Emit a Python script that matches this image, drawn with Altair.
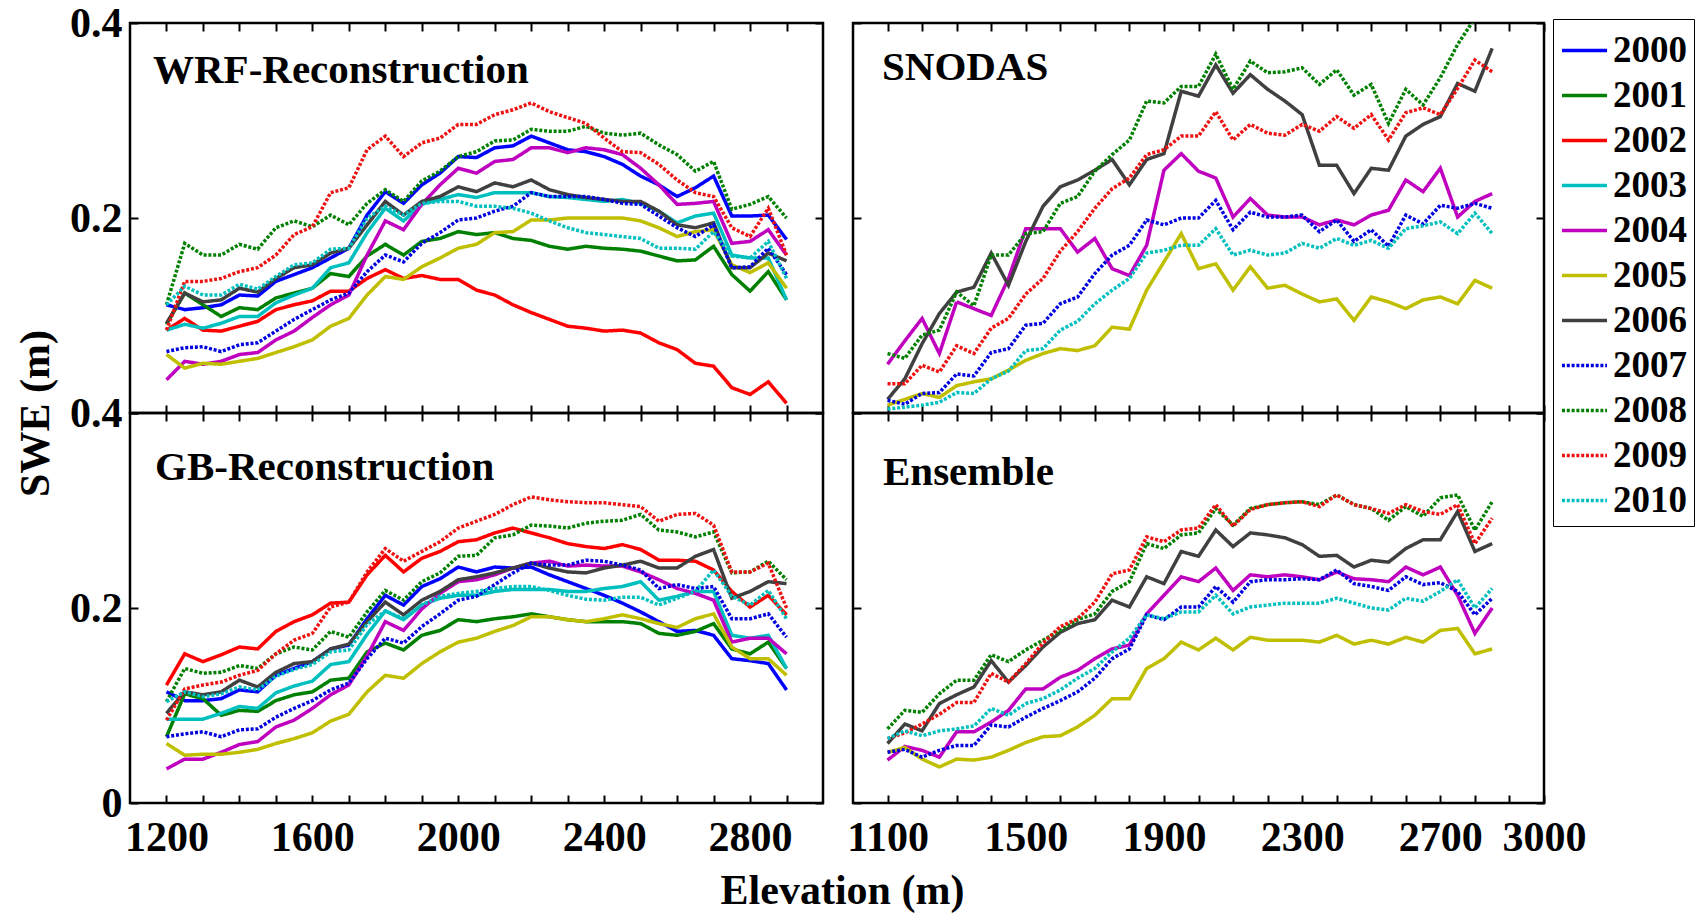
import json
import altair as alt
import pandas as pd

FONT = "Liberation Serif"

YEARS = ["2000", "2001", "2002", "2003", "2004", "2005", "2006", "2007", "2008", "2009", "2010"]
COLORS = ["#0000ff", "#008000", "#ff0000", "#00bfbf", "#bf00bf", "#bfbf00",
          "#404040", "#0000e0", "#008000", "#ee1111", "#00bfbf"]
DASHES = [[1, 0]] * 7 + [[3, 1.8]] * 4
WIDTHS = [3.5] * 7 + [4.2] * 4

ELEV_LEFT = list(range(1200, 2901, 50))   # 35 elevations (m)
ELEV_RIGHT = list(range(1100, 2851, 50))  # 36 elevations (m)

LEFT_TICKS = list(range(1200, 2901, 100))
LEFT_LABELS = [1200, 1600, 2000, 2400, 2800]
RIGHT_TICKS = list(range(1100, 3001, 100))
RIGHT_LABELS = [1100, 1500, 1900, 2300, 2700, 3000]

WRF = {
    "2000": [0.111,0.106,0.108,0.111,0.121,0.120,0.135,0.142,0.149,0.159,0.169,0.203,0.227,0.215,0.234,0.246,0.263,0.262,0.272,0.274,0.284,0.277,0.270,0.268,0.263,0.255,0.243,0.234,0.222,0.231,0.243,0.202,0.202,0.203,0.178],
    "2001": [0.091,0.123,0.111,0.099,0.108,0.106,0.118,0.123,0.128,0.143,0.140,0.161,0.173,0.162,0.176,0.179,0.186,0.183,0.185,0.179,0.177,0.171,0.168,0.171,0.169,0.168,0.166,0.161,0.156,0.157,0.171,0.142,0.125,0.145,0.116],
    "2002": [0.085,0.097,0.085,0.084,0.089,0.094,0.106,0.111,0.115,0.125,0.125,0.138,0.147,0.138,0.141,0.137,0.137,0.126,0.121,0.111,0.103,0.096,0.089,0.087,0.084,0.085,0.082,0.072,0.065,0.051,0.048,0.026,0.019,0.032,0.010],
    "2003": [0.085,0.091,0.087,0.092,0.099,0.099,0.113,0.121,0.128,0.149,0.154,0.185,0.210,0.197,0.214,0.219,0.224,0.221,0.226,0.226,0.226,0.222,0.221,0.219,0.217,0.219,0.215,0.207,0.195,0.202,0.205,0.162,0.159,0.159,0.116],
    "2004": [0.034,0.053,0.050,0.053,0.060,0.062,0.075,0.084,0.098,0.111,0.121,0.162,0.197,0.188,0.214,0.234,0.251,0.246,0.258,0.260,0.272,0.272,0.267,0.272,0.270,0.265,0.251,0.234,0.214,0.215,0.217,0.174,0.176,0.188,0.162],
    "2005": [0.060,0.046,0.051,0.050,0.053,0.056,0.062,0.068,0.075,0.089,0.097,0.121,0.140,0.137,0.150,0.159,0.169,0.173,0.185,0.186,0.198,0.198,0.200,0.200,0.200,0.200,0.197,0.190,0.181,0.186,0.188,0.152,0.144,0.154,0.128],
    "2006": [0.092,0.123,0.114,0.116,0.128,0.124,0.138,0.149,0.152,0.164,0.169,0.193,0.217,0.203,0.217,0.222,0.232,0.227,0.236,0.232,0.239,0.229,0.224,0.221,0.219,0.217,0.217,0.207,0.193,0.190,0.195,0.149,0.149,0.164,0.156],
    "2007": [0.063,0.067,0.068,0.063,0.070,0.072,0.084,0.096,0.106,0.116,0.123,0.145,0.162,0.155,0.174,0.185,0.198,0.200,0.207,0.212,0.226,0.222,0.222,0.222,0.219,0.215,0.214,0.202,0.190,0.181,0.193,0.149,0.150,0.169,0.142],
    "2008": [0.111,0.174,0.162,0.162,0.173,0.168,0.190,0.197,0.191,0.203,0.193,0.215,0.229,0.217,0.238,0.248,0.263,0.268,0.279,0.280,0.291,0.289,0.289,0.294,0.287,0.285,0.287,0.275,0.265,0.248,0.258,0.209,0.214,0.222,0.200],
    "2009": [0.085,0.135,0.135,0.138,0.145,0.149,0.162,0.183,0.191,0.226,0.231,0.270,0.284,0.263,0.277,0.282,0.296,0.296,0.306,0.311,0.318,0.309,0.303,0.297,0.282,0.268,0.267,0.255,0.239,0.226,0.222,0.190,0.181,0.210,0.162],
    "2010": [0.111,0.130,0.121,0.121,0.132,0.127,0.140,0.152,0.154,0.168,0.169,0.200,0.212,0.203,0.215,0.217,0.217,0.212,0.212,0.210,0.205,0.197,0.190,0.185,0.183,0.181,0.179,0.169,0.169,0.168,0.186,0.161,0.159,0.176,0.138],
}

GB = {
    "2000": [0.114,0.105,0.105,0.107,0.116,0.114,0.131,0.138,0.145,0.158,0.162,0.189,0.213,0.203,0.222,0.230,0.242,0.237,0.242,0.241,0.242,0.234,0.227,0.220,0.213,0.205,0.196,0.186,0.176,0.177,0.172,0.148,0.146,0.143,0.116],
    "2001": [0.068,0.112,0.107,0.090,0.095,0.094,0.105,0.111,0.114,0.126,0.128,0.155,0.164,0.157,0.172,0.177,0.188,0.186,0.189,0.191,0.194,0.191,0.188,0.186,0.186,0.186,0.184,0.174,0.172,0.176,0.184,0.158,0.153,0.165,0.138],
    "2002": [0.121,0.153,0.145,0.152,0.160,0.158,0.176,0.186,0.193,0.205,0.206,0.234,0.254,0.237,0.251,0.258,0.268,0.270,0.277,0.282,0.277,0.272,0.266,0.263,0.261,0.265,0.260,0.249,0.249,0.248,0.239,0.217,0.201,0.213,0.193],
    "2003": [0.086,0.086,0.086,0.092,0.099,0.097,0.113,0.120,0.125,0.142,0.145,0.173,0.197,0.188,0.203,0.210,0.213,0.213,0.217,0.219,0.219,0.219,0.217,0.217,0.220,0.222,0.227,0.208,0.212,0.217,0.217,0.172,0.169,0.172,0.138],
    "2004": [0.035,0.045,0.045,0.052,0.060,0.063,0.078,0.085,0.097,0.111,0.121,0.151,0.186,0.177,0.199,0.215,0.227,0.229,0.234,0.241,0.246,0.248,0.243,0.244,0.243,0.243,0.237,0.229,0.220,0.215,0.208,0.165,0.169,0.169,0.153],
    "2005": [0.061,0.049,0.050,0.050,0.052,0.055,0.061,0.066,0.072,0.084,0.091,0.114,0.131,0.128,0.143,0.155,0.165,0.169,0.176,0.182,0.191,0.191,0.188,0.186,0.189,0.193,0.189,0.184,0.180,0.189,0.194,0.160,0.148,0.148,0.131],
    "2006": [0.092,0.114,0.111,0.114,0.126,0.119,0.134,0.143,0.145,0.158,0.163,0.186,0.206,0.193,0.208,0.217,0.229,0.232,0.236,0.241,0.246,0.241,0.237,0.236,0.241,0.244,0.248,0.241,0.241,0.253,0.260,0.210,0.217,0.227,0.225],
    "2007": [0.068,0.071,0.073,0.068,0.075,0.076,0.088,0.097,0.105,0.116,0.123,0.148,0.169,0.164,0.181,0.194,0.208,0.212,0.224,0.236,0.246,0.244,0.244,0.249,0.248,0.244,0.239,0.220,0.224,0.220,0.222,0.189,0.189,0.194,0.170],
    "2008": [0.104,0.138,0.133,0.134,0.141,0.138,0.153,0.160,0.157,0.176,0.170,0.196,0.218,0.208,0.227,0.236,0.253,0.254,0.272,0.275,0.285,0.284,0.282,0.287,0.289,0.290,0.296,0.280,0.278,0.273,0.278,0.236,0.237,0.248,0.229],
    "2009": [0.085,0.117,0.121,0.124,0.131,0.136,0.153,0.167,0.174,0.201,0.206,0.237,0.261,0.248,0.258,0.268,0.282,0.289,0.296,0.306,0.314,0.311,0.309,0.308,0.308,0.306,0.304,0.289,0.296,0.297,0.285,0.237,0.237,0.246,0.200],
    "2010": [0.104,0.114,0.109,0.112,0.119,0.116,0.130,0.137,0.142,0.155,0.157,0.183,0.197,0.189,0.203,0.212,0.215,0.217,0.220,0.222,0.222,0.218,0.213,0.209,0.208,0.211,0.211,0.203,0.210,0.217,0.239,0.212,0.203,0.218,0.189],
}

SNODAS = {
    "2004": [0.050,0.074,0.097,0.061,0.114,0.107,0.100,0.138,0.189,0.189,0.189,0.165,0.179,0.148,0.141,0.172,0.249,0.266,0.248,0.241,0.201,0.220,0.203,0.201,0.201,0.193,0.198,0.193,0.203,0.208,0.239,0.227,0.251,0.201,0.217,0.225],
    "2005": [0.008,0.014,0.020,0.016,0.028,0.032,0.035,0.044,0.054,0.061,0.066,0.064,0.069,0.088,0.086,0.126,0.155,0.184,0.148,0.153,0.126,0.150,0.128,0.131,0.122,0.114,0.117,0.095,0.119,0.114,0.107,0.116,0.119,0.112,0.136,0.128],
    "2006": [0.014,0.035,0.071,0.102,0.124,0.129,0.164,0.131,0.176,0.212,0.232,0.239,0.249,0.260,0.234,0.260,0.266,0.330,0.325,0.357,0.328,0.347,0.332,0.320,0.306,0.254,0.254,0.225,0.251,0.249,0.284,0.296,0.304,0.338,0.330,0.374],
    "2007": [0.013,0.009,0.020,0.021,0.040,0.038,0.062,0.066,0.090,0.092,0.112,0.119,0.143,0.162,0.172,0.198,0.193,0.200,0.200,0.218,0.188,0.206,0.201,0.201,0.203,0.186,0.198,0.176,0.188,0.171,0.203,0.194,0.213,0.210,0.215,0.210],
    "2008": [0.061,0.056,0.080,0.085,0.124,0.110,0.162,0.162,0.184,0.186,0.215,0.222,0.248,0.265,0.280,0.320,0.318,0.335,0.335,0.368,0.332,0.361,0.349,0.350,0.354,0.337,0.352,0.326,0.337,0.297,0.332,0.316,0.344,0.378,0.405,0.430],
    "2009": [0.030,0.030,0.049,0.042,0.069,0.061,0.087,0.097,0.122,0.138,0.166,0.186,0.210,0.230,0.241,0.265,0.270,0.284,0.284,0.309,0.280,0.296,0.287,0.285,0.296,0.289,0.304,0.292,0.306,0.280,0.308,0.313,0.306,0.333,0.362,0.350],
    "2010": [0.004,0.006,0.008,0.011,0.021,0.020,0.035,0.043,0.064,0.066,0.085,0.094,0.112,0.126,0.138,0.164,0.167,0.172,0.172,0.189,0.162,0.167,0.162,0.164,0.174,0.169,0.179,0.172,0.177,0.169,0.189,0.192,0.196,0.184,0.205,0.184],
}

ENSEMBLE = {
    "2004": [0.044,0.058,0.054,0.047,0.073,0.073,0.083,0.095,0.117,0.117,0.129,0.136,0.148,0.158,0.162,0.194,0.213,0.232,0.227,0.241,0.218,0.234,0.232,0.234,0.232,0.229,0.237,0.230,0.229,0.227,0.242,0.234,0.242,0.213,0.174,0.200],
    "2005": [0.052,0.057,0.045,0.037,0.045,0.044,0.047,0.054,0.062,0.068,0.069,0.078,0.090,0.107,0.107,0.138,0.148,0.165,0.157,0.169,0.157,0.170,0.167,0.167,0.167,0.165,0.172,0.163,0.167,0.163,0.170,0.165,0.177,0.179,0.153,0.158],
    "2006": [0.061,0.081,0.074,0.102,0.111,0.119,0.146,0.124,0.141,0.160,0.175,0.184,0.188,0.208,0.201,0.232,0.225,0.258,0.253,0.280,0.263,0.277,0.275,0.272,0.265,0.253,0.254,0.242,0.249,0.247,0.261,0.270,0.270,0.299,0.258,0.266],
    "2007": [0.052,0.055,0.047,0.054,0.059,0.059,0.080,0.078,0.088,0.097,0.105,0.114,0.128,0.148,0.158,0.193,0.188,0.201,0.201,0.222,0.206,0.227,0.229,0.229,0.230,0.229,0.239,0.225,0.222,0.218,0.232,0.224,0.226,0.217,0.193,0.210],
    "2008": [0.076,0.095,0.093,0.112,0.126,0.126,0.152,0.145,0.157,0.167,0.177,0.188,0.194,0.217,0.227,0.266,0.261,0.275,0.277,0.302,0.285,0.302,0.306,0.308,0.309,0.306,0.316,0.306,0.302,0.290,0.304,0.294,0.313,0.316,0.280,0.309],
    "2009": [0.066,0.072,0.081,0.091,0.103,0.103,0.133,0.124,0.143,0.164,0.181,0.189,0.206,0.235,0.239,0.273,0.268,0.280,0.282,0.306,0.284,0.301,0.306,0.308,0.309,0.304,0.316,0.306,0.302,0.297,0.306,0.299,0.296,0.306,0.266,0.292],
    "2010": [0.066,0.074,0.069,0.074,0.076,0.079,0.097,0.090,0.102,0.107,0.116,0.128,0.138,0.155,0.169,0.193,0.189,0.196,0.196,0.213,0.194,0.201,0.203,0.205,0.205,0.205,0.210,0.205,0.200,0.198,0.210,0.207,0.217,0.229,0.200,0.220],
}


def to_df(series, elev):
    rows = []
    for yr, vals in series.items():
        for e, v in zip(elev, vals):
            rows.append({"elev": e, "swe": v, "year": yr})
    return pd.DataFrame(rows)


LEGEND = alt.Legend(
    title=None, orient="none", legendX=1423, legendY=-4,
    symbolType="stroke", symbolSize=2025, symbolStrokeWidth=4.5,
    labelFont=FONT, labelFontWeight="bold", labelFontSize=37, labelColor="black",
    labelOffset=4, rowPadding=2, padding=7, strokeColor="black",
)


def panel(df, title, tx, ty, xdom, xticks, xlabels, width, show_x, show_y, y_hide_zero,
          xtitle_kw=None, ytitle_kw=None):
    lab_expr = "indexof(%s, datum.value) >= 0 ? format(datum.value, 'd') : ''" % json.dumps(xlabels)
    if y_hide_zero:
        ylab = "datum.value == 0 ? '' : format(datum.value, '.1f')"
    else:
        ylab = "datum.value == 0 ? '0' : format(datum.value, '.1f')"
    common = dict(domain=False, grid=False, tickSize=8, offset=-8, tickWidth=2,
                  tickColor="black", labelFont=FONT, labelFontWeight="bold",
                  labelFontSize=42, labelColor="black", labelFlush=False,
                  labelOverlap=False)
    xkw = dict(common, orient="bottom", values=xticks, labels=show_x,
               labelExpr=lab_expr, labelPadding=14)
    if xtitle_kw:
        xkw.update(xtitle_kw)
    else:
        xkw["title"] = None
    ykw = dict(common, orient="left", values=[0, 0.2, 0.4], labels=show_y,
               labelExpr=ylab, labelPadding=8)
    if ytitle_kw:
        ykw.update(ytitle_kw)
    else:
        ykw["title"] = None
    xs = alt.Scale(domain=xdom, nice=False, zero=False)
    ys = alt.Scale(domain=[0, 0.4], nice=False)

    lines = alt.Chart(df).mark_line(clip=True).encode(
        x=alt.X("elev:Q", scale=xs, axis=alt.Axis(**xkw)),
        y=alt.Y("swe:Q", scale=ys, axis=alt.Axis(**ykw)),
        color=alt.Color("year:N", scale=alt.Scale(domain=YEARS, range=COLORS), legend=LEGEND),
        strokeDash=alt.StrokeDash("year:N", scale=alt.Scale(domain=YEARS, range=DASHES), legend=LEGEND),
        strokeWidth=alt.StrokeWidth("year:N", scale=alt.Scale(domain=YEARS, range=WIDTHS), legend=None),
    )
    mx = dict(common, orient="top", values=xticks, labels=False, title=None)
    my = dict(common, orient="right", values=[0, 0.2, 0.4], labels=False, title=None)
    mirror = alt.Chart(df).mark_line(opacity=0).encode(
        x=alt.X("elev:Q", scale=xs, axis=alt.Axis(**mx)),
        y=alt.Y("swe:Q", scale=ys, axis=alt.Axis(**my)),
        detail="year:N",
    )
    label = alt.Chart(alt.Data(values=[{"t": title}])).mark_text(
        font=FONT, fontWeight="bold", fontSize=41, align="left", baseline="alphabetic",
        color="black",
    ).encode(x=alt.value(tx), y=alt.value(ty), text="t:N")
    return alt.layer(lines, mirror, label).resolve_axis(
        x="independent", y="independent"
    ).properties(width=width, height=390)


df_wrf = to_df(WRF, ELEV_LEFT)
df_gb = to_df(GB, ELEV_LEFT)
df_sn = to_df(SNODAS, ELEV_RIGHT)
df_en = to_df(ENSEMBLE, ELEV_RIGHT)

LW, RW = 693, 691

ul = panel(df_wrf, "WRF-Reconstruction", 23, 60, [1100, 3000], LEFT_TICKS, LEFT_LABELS, LW,
           False, True, True)
ll = panel(df_gb, "GB-Reconstruction", 25, 67, [1100, 3000], LEFT_TICKS, LEFT_LABELS, LW,
           True, True, False,
           xtitle_kw=dict(title="Elevation (m)", titleFont=FONT, titleFontWeight="bold",
                          titleFontSize=42, titleColor="black", titleX=712, titleY=95,
                          titleAlign="center", titleBaseline="middle"),
           ytitle_kw=dict(title="SWE (m)", titleFont=FONT, titleFontWeight="bold",
                          titleFontSize=42, titleColor="black", titleX=-103, titleY=0,
                          titleAlign="center", titleBaseline="middle", titleAngle=270))
ur = panel(df_sn, "SNODAS", 29, 57, [1000, 3000], RIGHT_TICKS, RIGHT_LABELS, RW,
           False, False, True)
lr = panel(df_en, "Ensemble", 30, 72, [1000, 3000], RIGHT_TICKS, RIGHT_LABELS, RW,
           True, False, False)

chart = alt.concat(
    ul, ur, ll, lr, columns=2, spacing={"row": 0, "column": 30}, bounds="flush"
).configure_view(
    stroke="black", strokeWidth=2.5
).properties(background="white", padding={"left": 12, "top": -8, "right": 0, "bottom": 0})

chart.save("out.html", embed_options={"renderer": "svg", "actions": False})
